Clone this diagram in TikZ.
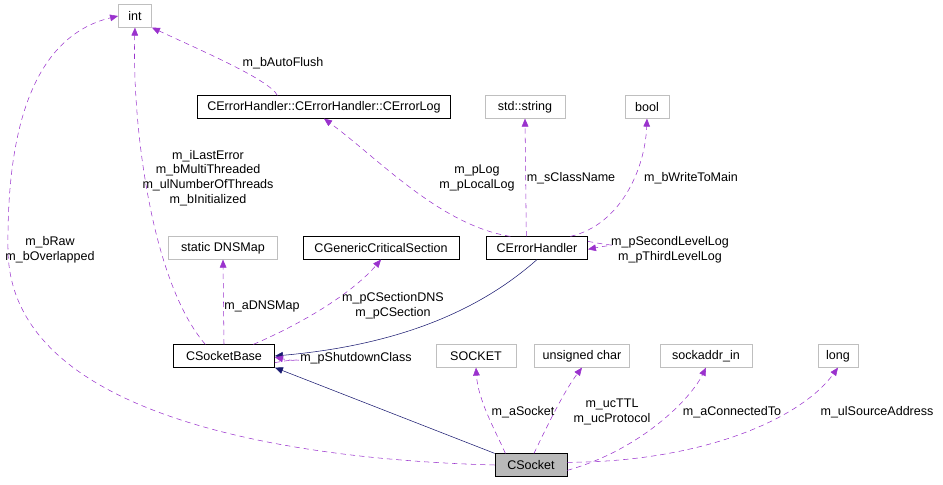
\documentclass[tikz,border=0pt]{standalone}
\usepackage{fontspec}
\setmainfont{Liberation Sans}
\usetikzlibrary{arrows.meta}
\definecolor{usage}{rgb}{0.604,0.196,0.804}
\definecolor{inherit}{rgb}{0.098,0.098,0.439}
\definecolor{grayedge}{rgb}{0.75,0.75,0.75}
\tikzset{
  cls/.style={rectangle,draw=black,inner sep=2pt,minimum height=17pt,font=\fontsize{9.4}{11}\selectfont},
  ext/.style={cls,draw=grayedge},
  use/.style={draw=usage,dash pattern=on 4pt off 3pt,-{Triangle[length=6pt,width=5pt]}},
  isa/.style={draw=inherit,-{Triangle[length=6pt,width=5pt]}},
  lbl/.style={font=\fontsize{9.4}{11}\selectfont,align=center,inner sep=1pt}
}
\begin{document}
\begin{tikzpicture}[x=0.75pt,y=-0.75pt]
\useasboundingbox (0,0) rectangle (943,485);
\node[ext,minimum width=25pt] (int) at (135,16) {int};
\node[cls,minimum width=190pt] (errlog) at (324,107) {CErrorHandler::CErrorHandler::CErrorLog};
\node[ext,minimum width=60pt] (str) at (525,107) {std::string};
\node[ext,minimum width=33pt] (bool) at (647,107) {bool};
\node[ext,minimum width=82pt] (dnsmap) at (223,248) {static DNSMap};
\node[cls,minimum width=117pt] (crit) at (381,248) {CGenericCriticalSection};
\node[cls,minimum width=76pt] (eh) at (537,248) {CErrorHandler};
\node[cls,minimum width=76pt] (sb) at (224,356) {CSocketBase};
\node[ext,minimum width=60pt] (sock) at (476,356) {SOCKET};
\node[ext,minimum width=71pt] (uchar) at (582,356) {unsigned char};
\node[ext,minimum width=69pt] (saddr) at (706,356) {sockaddr\_in};
\node[ext,minimum width=30pt] (long) at (838,356) {long};
\node[cls,fill=gray!55,minimum width=54pt] (cs) at (531,465) {CSocket};

% CSocket members
\draw[use] (cs.west) .. controls (300,460) and (10,420) .. (8,250) .. controls (6,80) and (60,30) .. (int.west);
\node[lbl] (l1) at (50,250) {m\_bRaw\\m\_bOverlapped};
\draw[isa] (cs.north west) -- (sb.south east);
\draw[use] ([xshift=8pt]cs.north west) .. controls (495,430) and (478,400) .. (sock.south);
\node[lbl] (l2) at (523,412) {m\_aSocket};
\draw[use] ([xshift=-25pt]cs.north east) .. controls (550,420) and (565,390) .. (uchar.south);
\node[lbl] (l3) at (612,412) {m\_ucTTL\\m\_ucProtocol};
\draw[use] ([yshift=-4pt]cs.east) .. controls (640,450) and (690,400) .. (saddr.south);
\node[lbl] (l4) at (732,412) {m\_aConnectedTo};
\draw[use] ([yshift=2pt]cs.east) .. controls (700,462) and (800,420) .. (long.south);
\node[lbl] (l5) at (877,412) {m\_ulSourceAddress};

% CSocketBase members
\draw[use] ([xshift=-14pt]sb.north) .. controls (150,280) and (132,120) .. (int.south);
\node[lbl] (l6) at (208,178) {m\_iLastError\\m\_bMultiThreaded\\m\_ulNumberOfThreads\\m\_bInitialized};
\draw[use] (sb.north) -- (dnsmap.south);
\node[lbl] (l7) at (262,306) {m\_aDNSMap};
\draw[use] ([xshift=22pt]sb.north) .. controls (310,320) and (355,290) .. (crit.south);
\node[lbl] (l8) at (393,306) {m\_pCSectionDNS\\m\_pCSection};
\draw[isa] (eh.south) .. controls (480,310) and (400,345) .. (sb.east);
\draw[use] ([yshift=-5pt]sb.east) .. controls +(30,-6) and +(30,6) .. ([yshift=-1pt]sb.east);
\node[lbl] (l9) at (356,358) {m\_pShutdownClass};

% CErrorHandler members
\draw[use] ([xshift=-20pt]eh.north) .. controls (440,225) and (380,160) .. (errlog.south);
\node[lbl] (l10) at (477,178) {m\_pLog\\m\_pLocalLog};
\draw[use] ([xshift=-8pt]eh.north) -- (str.south);
\node[lbl] (l11) at (571,178) {m\_sClassName};
\draw[use] ([xshift=25pt]eh.north) .. controls (620,225) and (645,170) .. (bool.south);
\node[lbl] (l12) at (691,178) {m\_bWriteToMain};
\draw[use] ([yshift=5pt]eh.east) .. controls +(30,6) and +(30,-6) .. ([yshift=-1pt]eh.east);
\node[lbl] (l13) at (670,250) {m\_pSecondLevelLog\\m\_pThirdLevelLog};

% CErrorLog member
\draw[use] ([xshift=-35pt]errlog.north) .. controls (270,80) and (200,50) .. (int.south east);
\node[lbl] (l14) at (283,63) {m\_bAutoFlush};
\end{tikzpicture}
\end{document}
